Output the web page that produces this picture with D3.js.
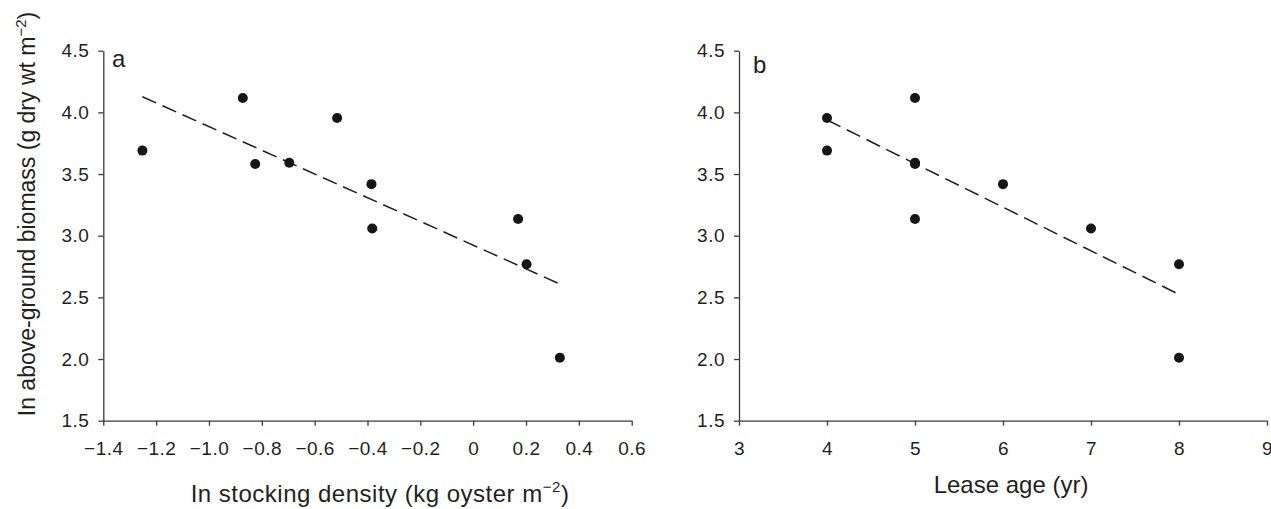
<!DOCTYPE html>
<html><head><meta charset="utf-8">
<script src="https://cdn.jsdelivr.net/npm/d3@7"></script>
<style>
body{margin:0;background:#fff}
svg text{font-family:"Liberation Sans",Arial,Helvetica,sans-serif;fill:#231f20}
</style>
</head><body>
<svg id="chart" width="1271" height="509"></svg>
<script>
// ---- data ----
const biomass   = [3.690, 4.117, 3.582, 3.592, 3.954, 3.418, 3.058, 3.136, 2.769, 2.011];
const density   = [-1.252, -0.872, -0.825, -0.696, -0.515, -0.385, -0.382, 0.170, 0.202, 0.328];
const leaseAge  = [4, 5, 5, 5, 4, 6, 7, 5, 8, 8];
const fitDensityX = [-1.252, 0.322];
const fitDensityY = [4.127, 2.614];
const fitAgeX = [4, 8];
const fitAgeY = [3.938, 2.524];
const biomassTicks = [1.5, 2.0, 2.5, 3.0, 3.5, 4.0, 4.5];
const biomassTickLabels = ["1.5", "2.0", "2.5", "3.0", "3.5", "4.0", "4.5"];
const densityTicks = [-1.4, -1.2, -1.0, -0.8, -0.6, -0.4, -0.2, 0, 0.2, 0.4, 0.6];
const densityTickLabels = ["\u22121.4", "\u22121.2", "\u22121.0", "\u22120.8", "\u22120.6", "\u22120.4", "\u22120.2", "0", "0.2", "0.4", "0.6"];
const ageTicks = [3, 4, 5, 6, 7, 8, 9];
const ageTickLabels = ["3", "4", "5", "6", "7", "8", "9"];

const svg = d3.select("#chart");
const yTop = 50.7, yBottom = 420.7;
const inkAxis = "#3a3a3a", inkDot = "#161616";

function panel(opts) {
  const x = d3.scaleLinear().domain(opts.xDomain).range(opts.xRange);
  const y = d3.scaleLinear().domain([1.5, 4.5]).range([yBottom, yTop]);
  const g = svg.append("g");

  const yAxis = d3.axisLeft(y).tickValues(biomassTicks)
    .tickFormat((d, i) => biomassTickLabels[i]).tickSize(5).tickSizeOuter(0).tickPadding(9);
  const gy = g.append("g").attr("transform", `translate(${opts.xRange[0]},0)`).call(yAxis);

  const xAxis = d3.axisBottom(x).tickValues(opts.ticks)
    .tickFormat((d, i) => opts.tickLabels[i]).tickSize(5).tickSizeOuter(0).tickPadding(16);
  const gx = g.append("g").attr("transform", `translate(0,${yBottom})`).call(xAxis);

  [gx, gy].forEach(a => {
    a.selectAll("path,line").attr("stroke", inkAxis).attr("stroke-width", 1.3);
    a.selectAll("text").attr("font-size", 19).attr("letter-spacing", "0.5px")
      .attr("fill", "#231f20").style("font-family", '"Liberation Sans",Arial,sans-serif');
  });

  // regression line
  const line = d3.line().x(d => x(d[0])).y(d => y(d[1]));
  g.append("path")
    .datum(opts.fitX.map((v, i) => [v, opts.fitY[i]]))
    .attr("d", line).attr("fill", "none").attr("stroke", "#1e1e1e")
    .attr("stroke-width", 1.5).attr("stroke-dasharray", "15,7");

  // points
  g.selectAll("circle.pt").data(opts.xs.map((v, i) => [v, biomass[i]]))
    .join("circle").attr("class", "pt")
    .attr("cx", d => x(d[0])).attr("cy", d => y(d[1])).attr("r", 5)
    .attr("fill", inkDot);

  // panel letter
  g.append("text").attr("x", opts.letterPos[0]).attr("y", opts.letterPos[1])
    .attr("font-size", 24).text(opts.letter);

  return {x, y, g};
}

const pa = panel({
  xDomain: [-1.4, 0.6], xRange: [103.3, 631.7], ticks: densityTicks, tickLabels: densityTickLabels,
  xs: density, fitX: fitDensityX, fitY: fitDensityY, letter: "a", letterPos: [112, 66.7]
});
const pb = panel({
  xDomain: [3, 9], xRange: [739, 1267], ticks: ageTicks, tickLabels: ageTickLabels,
  xs: leaseAge, fitX: fitAgeX, fitY: fitAgeY, letter: "b", letterPos: [753, 73.3]
});

// x axis titles
const ta = svg.append("text").attr("x", 380).attr("y", 501.7).attr("text-anchor", "middle")
  .attr("font-size", 24).attr("letter-spacing", "0.5px");
ta.append("tspan").text("In stocking density (kg oyster m");
ta.append("tspan").attr("font-size", 15).attr("dy", -10).text("\u22122");
ta.append("tspan").attr("dy", 10).text(")");

svg.append("text").attr("x", 1011).attr("y", 493.3).attr("text-anchor", "middle")
  .attr("font-size", 24).text("Lease age (yr)");

// y axis title
const ty = svg.append("text").attr("transform", "translate(35,214) rotate(-90)")
  .attr("text-anchor", "middle").attr("font-size", 23);
ty.append("tspan").text("In above-ground biomass (g dry wt m");
ty.append("tspan").attr("font-size", 15).attr("dy", -9).text("\u22122");
ty.append("tspan").attr("dy", 9).text(")");
</script>
</body></html>
